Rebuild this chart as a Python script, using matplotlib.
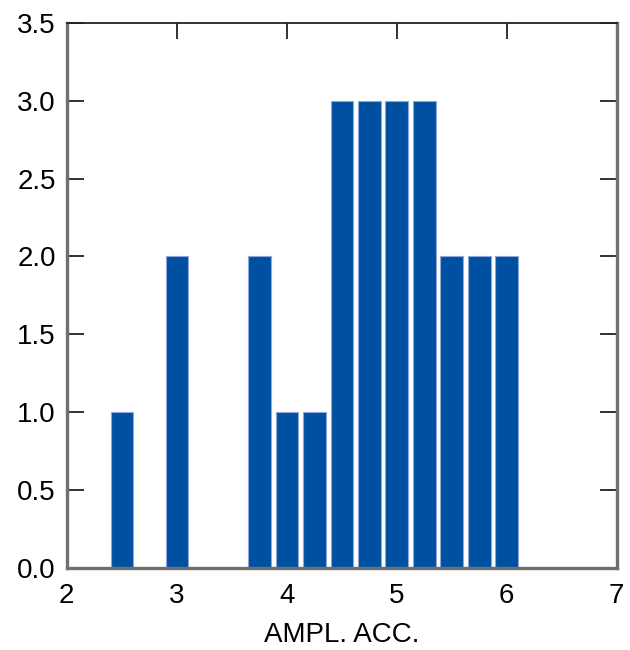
import matplotlib
matplotlib.use("Agg")
from matplotlib import pyplot as plt

# histogram of amplitude accuracy
ampl = [2.5, 3.0, 3.75, 4.0, 4.25, 4.5, 4.75, 5.0, 5.25, 5.5, 5.75, 6.0]
counts = [1, 2, 2, 1, 1, 3, 3, 3, 3, 2, 2, 2]
xticks = [2, 3, 4, 5, 6, 7]
yticks = [0.0, 0.5, 1.0, 1.5, 2.0, 2.5, 3.0, 3.5]


def main():
    plt.rcParams['font.family'] = ['Liberation Sans', 'DejaVu Sans']
    fig = plt.figure(figsize=(6.3, 6.5), dpi=100)
    ax = fig.add_axes([0.106, 0.126, 0.873, 0.839])

    ax.bar(ampl, counts, width=0.205, color='#0050a2',
           edgecolor='#8fa6d8', linewidth=0.8, zorder=2)

    ax.set_xlim(2, 7)
    ax.set_ylim(0, 3.5)
    ax.set_xticks(xticks)
    ax.set_yticks(yticks)
    ax.set_yticklabels([f"{v:.1f}" for v in yticks])

    ax.tick_params(axis='x', bottom=False, top=True, direction='in',
                   length=11.5, width=1.3, color='#222222', labelsize=20, pad=11)
    ax.tick_params(axis='y', left=True, right=True, direction='in',
                   length=12, width=1.3, color='#222222', labelsize=20, pad=8)

    for side in ['left', 'bottom', 'right']:
        ax.spines[side].set_color('#707070')
        ax.spines[side].set_linewidth(2.4)
    ax.spines['top'].set_color('#222222')
    ax.spines['top'].set_linewidth(1.3)

    ax.set_xlabel("AMPL. ACC.", fontsize=20, labelpad=9)

    fig.savefig("out.png", dpi=100)


if __name__ == '__main__':
    main()
